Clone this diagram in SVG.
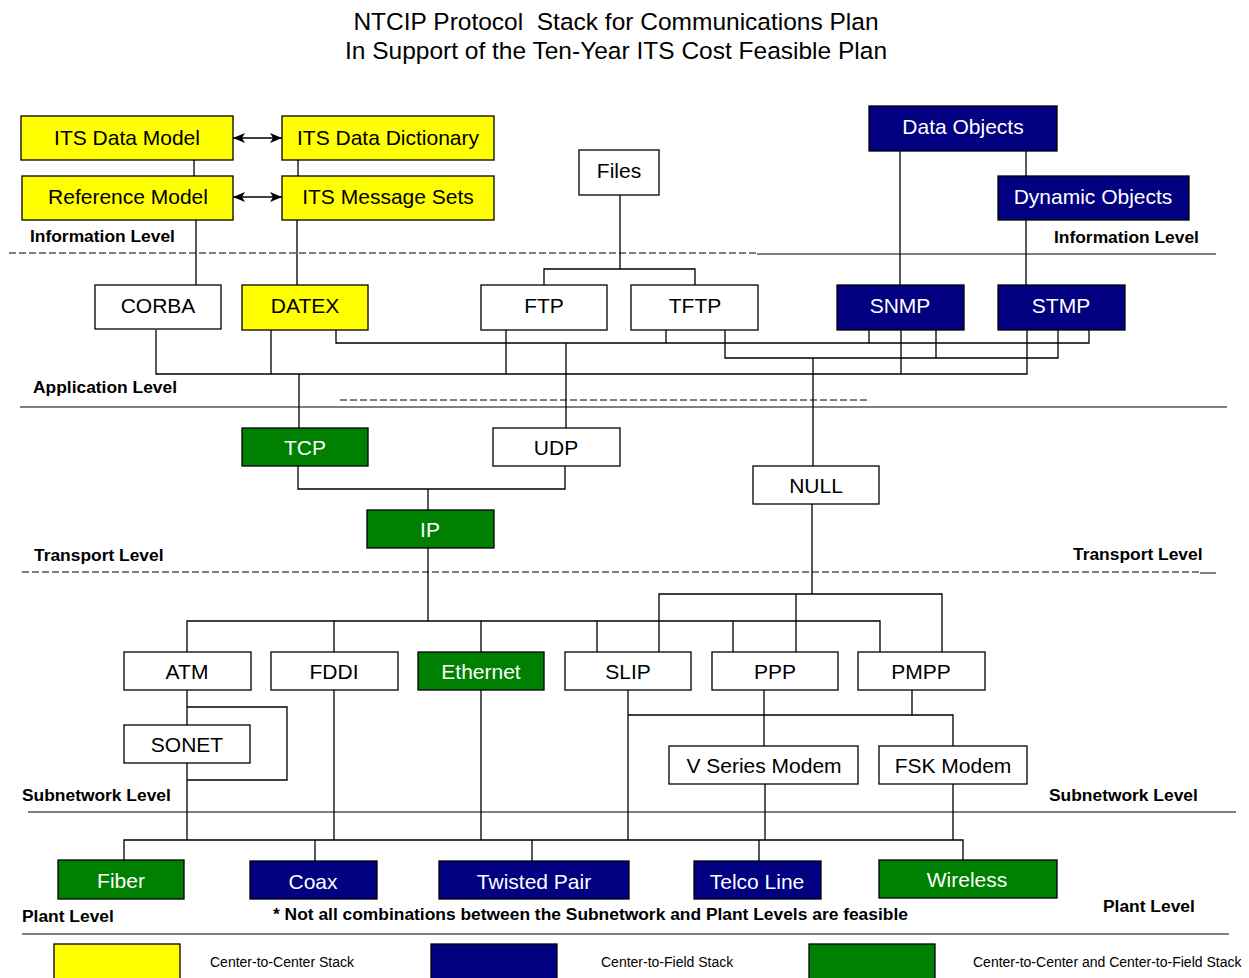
<svg xmlns="http://www.w3.org/2000/svg" width="1249" height="978" viewBox="0 0 1249 978">
<style>
text{font-family:"Liberation Sans",Arial,sans-serif;}
.t{font-size:24.5px;fill:#000;text-anchor:middle;}
.b{stroke:#000;stroke-width:1.3;}
.y{fill:#FFFF00;}
.n{fill:#000080;}
.g{fill:#008000;}
.w{fill:#FFFFFF;}
.bt{font-size:21px;text-anchor:middle;fill:#000;}
.bw{font-size:21px;text-anchor:middle;fill:#FFFFFF;}
.lv{font-size:17.4px;font-weight:bold;fill:#000;}
.lg{font-size:14px;fill:#000;}
.c{stroke:#000;stroke-width:1.3;fill:none;}
.sep{stroke:#000;stroke-width:1;fill:none;}
.dash{stroke:#000;stroke-width:1.2;fill:none;stroke-dasharray:7,3;}
</style>
<defs>
<marker id="ah" viewBox="0 0 12 10" refX="12" refY="5" markerWidth="13" markerHeight="10" markerUnits="userSpaceOnUse" orient="auto-start-reverse">
<path d="M0,0 L12,5 L0,10 L3,5 Z" fill="#000"/>
</marker>
</defs>
<rect width="1249" height="978" fill="#FFFFFF"/>
<text class="t" x="616" y="30" xml:space="preserve">NTCIP Protocol  Stack for Communications Plan</text>
<text class="t" x="616" y="59">In Support of the Ten-Year ITS Cost Feasible Plan</text>

<g id="levels">
<line class="dash" x1="9" y1="253" x2="757" y2="253"/>
<line class="sep" x1="757" y1="254" x2="1216" y2="254"/>
<text class="lv" x="30" y="242">Information Level</text>
<text class="lv" x="1054" y="243">Information Level</text>
<line class="sep" x1="20" y1="407" x2="1227" y2="407"/>
<line class="dash" x1="340" y1="400" x2="870" y2="400"/>
<text class="lv" x="33" y="393">Application Level</text>
<line class="dash" x1="22" y1="572" x2="1200" y2="572"/>
<line class="sep" x1="1200" y1="573" x2="1216" y2="573"/>
<text class="lv" x="34" y="561">Transport Level</text>
<text class="lv" x="1073" y="560">Transport Level</text>
<line class="sep" x1="28" y1="812" x2="1236" y2="812"/>
<text class="lv" x="22" y="801">Subnetwork Level</text>
<text class="lv" x="1049" y="801">Subnetwork Level</text>
<line class="sep" x1="22" y1="934" x2="1229" y2="934"/>
<text class="lv" x="22" y="922">Plant Level</text>
<text class="lv" x="1103" y="912">Plant Level</text>
<text class="lv" x="273" y="920">* Not all combinations between the Subnetwork and Plant Levels are feasible</text>
</g>

<g id="connectors">
<line class="c" x1="233" y1="138" x2="282" y2="138" marker-start="url(#ah)" marker-end="url(#ah)"/>
<line class="c" x1="233" y1="197" x2="282" y2="197" marker-start="url(#ah)" marker-end="url(#ah)"/>
<path class="c" d="M194,160V176 M298,160V176 M196,220V285 M297,220V285"/>
<path class="c" d="M620,195V269 M544,285V269H695V285"/>
<path class="c" d="M900,151V285 M1026,151V176 M1026,220V285"/>
<path class="c" d="M336,330V343H1089V330 M666,330V343 M869,330V343 M566,343V428"/>
<path class="c" d="M725,330V358H1058V330 M936,330V358 M813,358V466"/>
<path class="c" d="M156,330V374H1027V330 M271,330V374 M506,330V374 M901,330V374 M299,374V428"/>
<path class="c" d="M298,466V489H565V466 M428,489V510"/>
<path class="c" d="M428,548V621 M187,652V621H880V652 M334,621V652 M481,621V652 M597,621V652 M733,621V652"/>
<path class="c" d="M812,504V594 M659,652V594H942V652 M796,594V652"/>
<path class="c" d="M187,690V725 M187,707H287V780H187 M187,763V840"/>
<path class="c" d="M334,690V840 M481,690V840"/>
<path class="c" d="M628,690V840 M628,715H953V746 M764,690V746 M912,690V715"/>
<path class="c" d="M765,784V840 M953,784V840"/>
<path class="c" d="M124,861V840H963V860 M315,840V861 M532,840V861 M759,840V861"/>
</g>

<g id="n-itsdatamodel"><rect class="b y" x="21" y="116" width="212" height="44"/><text class="bt" x="127" y="145">ITS Data Model</text></g>
<g id="n-itsdatadictionary"><rect class="b y" x="282" y="116" width="212" height="44"/><text class="bt" x="388" y="145">ITS Data Dictionary</text></g>
<g id="n-referencemodel"><rect class="b y" x="22" y="176" width="211" height="44"/><text class="bt" x="128" y="204">Reference Model</text></g>
<g id="n-itsmessagesets"><rect class="b y" x="282" y="176" width="212" height="44"/><text class="bt" x="388" y="204">ITS Message Sets</text></g>
<g id="n-files"><rect class="b w" x="579" y="150" width="80" height="45"/><text class="bt" x="619" y="178">Files</text></g>
<g id="n-dataobjects"><rect class="b n" x="869" y="106" width="188" height="45"/><text class="bw" x="963" y="134">Data Objects</text></g>
<g id="n-dynamicobjects"><rect class="b n" x="998" y="176" width="191" height="44"/><text class="bw" x="1093" y="204">Dynamic Objects</text></g>
<g id="n-corba"><rect class="b w" x="95" y="285" width="126" height="44"/><text class="bt" x="158" y="313">CORBA</text></g>
<g id="n-datex"><rect class="b y" x="242" y="285" width="126" height="45"/><text class="bt" x="305" y="313">DATEX</text></g>
<g id="n-ftp"><rect class="b w" x="481" y="285" width="126" height="45"/><text class="bt" x="544" y="313">FTP</text></g>
<g id="n-tftp"><rect class="b w" x="631" y="285" width="127" height="45"/><text class="bt" x="695" y="313">TFTP</text></g>
<g id="n-snmp"><rect class="b n" x="837" y="285" width="127" height="45"/><text class="bw" x="900" y="313">SNMP</text></g>
<g id="n-stmp"><rect class="b n" x="998" y="285" width="127" height="45"/><text class="bw" x="1061" y="313">STMP</text></g>
<g id="n-tcp"><rect class="b g" x="242" y="428" width="126" height="38"/><text class="bw" x="305" y="455">TCP</text></g>
<g id="n-udp"><rect class="b w" x="493" y="428" width="127" height="38"/><text class="bt" x="556" y="455">UDP</text></g>
<g id="n-ip"><rect class="b g" x="367" y="510" width="127" height="38"/><text class="bw" x="430" y="537">IP</text></g>
<g id="n-null"><rect class="b w" x="753" y="466" width="126" height="38"/><text class="bt" x="816" y="493">NULL</text></g>
<g id="n-atm"><rect class="b w" x="124" y="652" width="127" height="38"/><text class="bt" x="187" y="679">ATM</text></g>
<g id="n-fddi"><rect class="b w" x="271" y="652" width="127" height="38"/><text class="bt" x="334" y="679">FDDI</text></g>
<g id="n-ethernet"><rect class="b g" x="418" y="652" width="126" height="38"/><text class="bw" x="481" y="679">Ethernet</text></g>
<g id="n-slip"><rect class="b w" x="565" y="652" width="126" height="38"/><text class="bt" x="628" y="679">SLIP</text></g>
<g id="n-ppp"><rect class="b w" x="712" y="652" width="126" height="38"/><text class="bt" x="775" y="679">PPP</text></g>
<g id="n-pmpp"><rect class="b w" x="858" y="652" width="127" height="38"/><text class="bt" x="921" y="679">PMPP</text></g>
<g id="n-sonet"><rect class="b w" x="124" y="725" width="126" height="38"/><text class="bt" x="187" y="752">SONET</text></g>
<g id="n-vseries"><rect class="b w" x="669" y="746" width="189" height="38"/><text class="bt" x="764" y="773">V Series Modem</text></g>
<g id="n-fsk"><rect class="b w" x="879" y="746" width="148" height="38"/><text class="bt" x="953" y="773">FSK Modem</text></g>
<g id="n-fiber"><rect class="b g" x="58" y="860" width="126" height="39"/><text class="bw" x="121" y="888">Fiber</text></g>
<g id="n-coax"><rect class="b n" x="250" y="861" width="127" height="38"/><text class="bw" x="313" y="889">Coax</text></g>
<g id="n-twistedpair"><rect class="b n" x="439" y="861" width="190" height="38"/><text class="bw" x="534" y="889">Twisted Pair</text></g>
<g id="n-telcoline"><rect class="b n" x="694" y="861" width="127" height="38"/><text class="bw" x="757" y="889">Telco Line</text></g>
<g id="n-wireless"><rect class="b g" x="879" y="860" width="178" height="38"/><text class="bw" x="967" y="887">Wireless</text></g>

<g id="legend">
<rect class="b y" x="54" y="944" width="126" height="40"/>
<text class="lg" x="210" y="967">Center-to-Center Stack</text>
<rect class="b n" x="431" y="944" width="126" height="40"/>
<text class="lg" x="601" y="967">Center-to-Field Stack</text>
<rect class="b g" x="809" y="944" width="126" height="40"/>
<text class="lg" x="973" y="967">Center-to-Center and Center-to-Field Stack</text>
</g>
</svg>
